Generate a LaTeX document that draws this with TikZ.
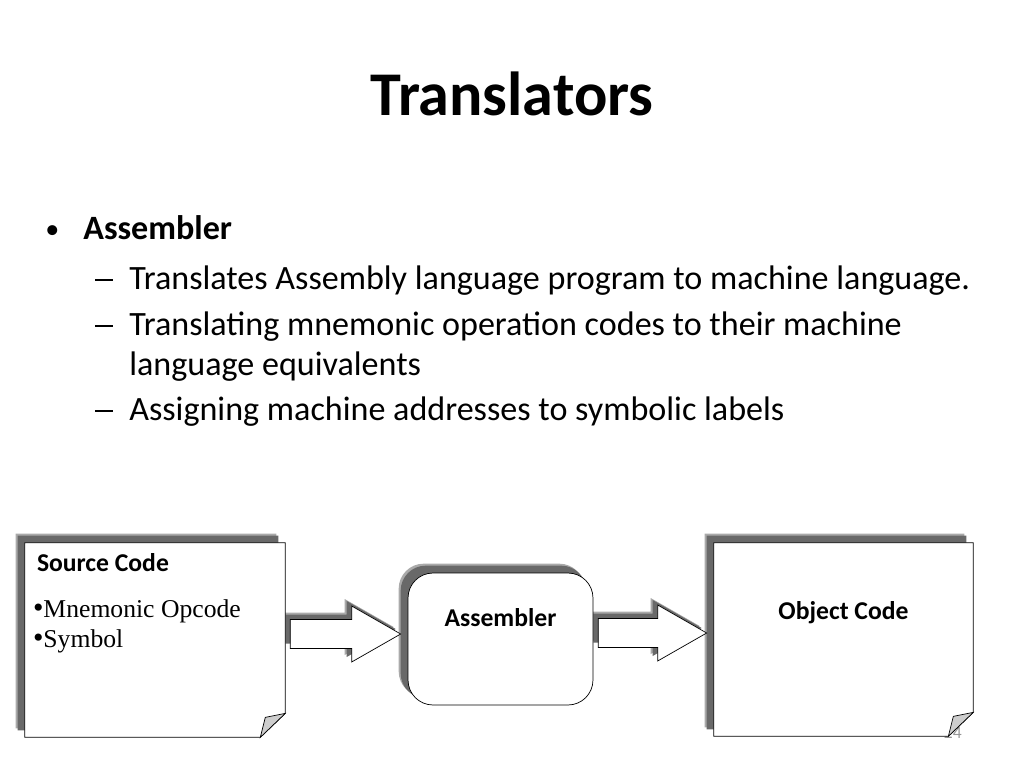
\documentclass[tikz,border=0pt]{standalone}
\usepackage{fontspec}
\setmainfont{Carlito}
\newfontfamily\timesfont{Liberation Serif}
\usetikzlibrary{calc}
\usetikzlibrary{backgrounds}

\definecolor{shadowdark}{RGB}{105,105,105}
\definecolor{shadowlight}{RGB}{170,170,170}
\definecolor{foldgray}{RGB}{205,205,205}
\definecolor{pagegray}{RGB}{150,150,150}

% page with a turned-down corner, shifted by #2
\newcommand{\dogpage}[3]{%
  \path[#3] ($(#1.north west)+(#2,#2)$) -- ($(#1.north east)+(#2,#2)$)
    -- ($(#1.south east)+(#2,#2-24)$) -- ($(#1.south east)+(#2-25,#2)$)
    -- ($(#1.south west)+(#2,#2)$) -- cycle;}
% block arrow from node #1 to node #2, shifted by #3
\newcommand{\bigarrow}[4]{%
  \path[#4] let \p1=($(#1.east)+(5+#3,-6+#3)$), \p2=($(#2.west)+(-7+#3,-6+#3)$) in
    (\x1,\y1+0.29cm) -- (\x2-0.98cm,\y1+0.29cm) -- (\x2-0.98cm,\y1+0.56cm)
    -- (\x2,\y1) -- (\x2-0.98cm,\y1-0.56cm) -- (\x2-0.98cm,\y1-0.29cm)
    -- (\x1,\y1-0.29cm) -- cycle;}
\newcommand{\subdash}{\raisebox{0.17cm}{\rule{0.36cm}{0.035cm}}}
\newcommand{\bigdot}{{\fontsize{17}{17}\selectfont•}}

\begin{document}
\begin{tikzpicture}[x=0.02cm, y=-0.02cm]

      \tikzset{body/.style = {anchor=base west, inner sep=0pt, font=\fontsize{19.4}{23}\selectfont}}
      \tikzset{page/.style = {inner sep=0pt, minimum width=5.2cm, minimum height=3.88cm}}
      \tikzset{roundbox/.style = {draw, fill=white, rounded corners=0.5cm, minimum width=3.7cm, minimum height=2.64cm}}
      \tikzset{boxlabel/.style = {inner sep=0pt, font=\bfseries\fontsize{14.6}{17}\selectfont}}
      \tikzset{serifitem/.style = {anchor=base west, inner sep=0pt, font=\timesfont\fontsize{14.6}{17}\selectfont}}
      \useasboundingbox (0,0) rectangle (1024,768);

      % title and bullets
      \node[anchor=base, font=\bfseries\fontsize{35.4}{42}\selectfont] (title) at (512,115) {Translators};
      \node[body, font=\fontsize{16}{20}\selectfont] (dot) at (45,238) {•};
      \node[body, font=\bfseries\fontsize{19.4}{23}\selectfont] (head) at (83,239) {Assembler};
      \node[body] (dasha) at (95,289) {\subdash};
      \node[body] (linea) at (129,289) {Translates Assembly language program to machine language.};
      \node[body] (dashb) at (95,335) {\subdash};
      \node[body] (lineb) at (129,335) {Translating mnemonic operation codes to their machine};
      \node[body] (linec) at (129,375) {language equivalents};
      \node[body] (dashc) at (95,420) {\subdash};
      \node[body] (lined) at (129,420) {Assigning machine addresses to symbolic labels};

      % boxes
      \node[page] (src) at (155,640) {};
      \node[page, minimum width=5.18cm, minimum height=3.86cm] (obj) at (843.5,639.5) {};
      \node[roundbox] (asm) at (500.5,639) {};

      % shadows
      \begin{scope}[on background layer]
        \node[anchor=base east, inner sep=0pt, text=pagegray, font=\fontsize{10}{12}\selectfont] (num) at (962,738) {24};
        \foreach \n in {src,obj} {
          \dogpage{\n}{-9}{fill=shadowlight}
          \dogpage{\n}{-7}{fill=shadowdark}
        }
        \path[fill=shadowlight, rounded corners=0.5cm] ($(asm.north west)+(-9,-9)$) rectangle ($(asm.south east)+(-9,-9)$);
        \path[fill=shadowdark, rounded corners=0.5cm] ($(asm.north west)+(-7,-7)$) rectangle ($(asm.south east)+(-7,-7)$);
        \bigarrow{src}{asm}{-7}{fill=shadowlight}
        \bigarrow{src}{asm}{-5}{fill=shadowdark}
        \bigarrow{asm}{obj}{-7}{fill=shadowlight}
        \bigarrow{asm}{obj}{-5}{fill=shadowdark}
      \end{scope}

      % pages
      \foreach \n in {src,obj} {
        \dogpage{\n}{0}{draw, fill=white}
        \draw[fill=foldgray] ($(\n.south east)+(-25,0)$) -- ($(\n.south east)+(-20,-20)$) -- ($(\n.south east)+(0,-24)$) -- cycle;
      }

      % arrows
      \bigarrow{src}{asm}{0}{draw, fill=white}
      \bigarrow{asm}{obj}{0}{draw, fill=white}

      % labels
      \node[boxlabel, anchor=base west] (srchead) at ($(src.north west)+(12,29)$) {Source Code};
      \node[serifitem] (itema) at ($(src.north west)+(8,75)$) {\bigdot Mnemonic Opcode};
      \node[serifitem] (itemb) at ($(src.north west)+(8,105)$) {\bigdot Symbol};
      \node[boxlabel, anchor=base] (asmtext) at ($(asm.north)+(0,54)$) {Assembler};
      \node[boxlabel, anchor=base] (objtext) at ($(obj.north)+(0,77)$) {Object Code};

\end{tikzpicture}
\end{document}
